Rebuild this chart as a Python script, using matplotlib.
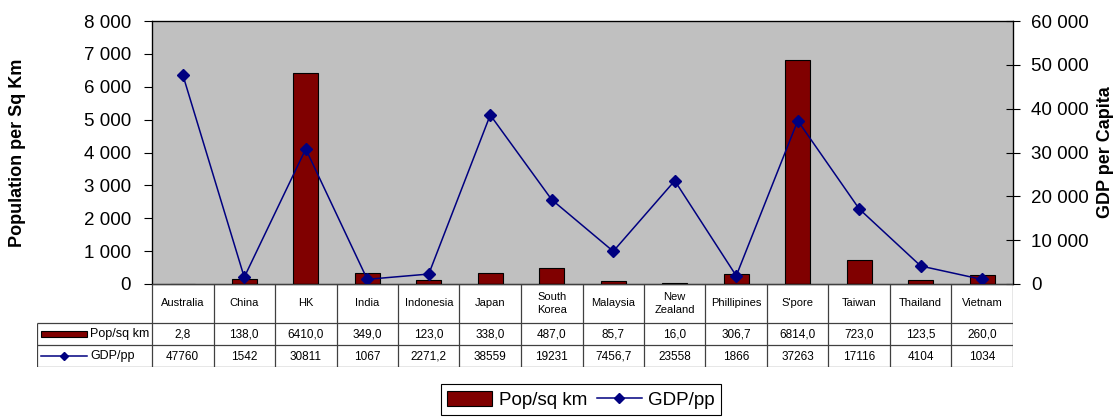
import matplotlib
matplotlib.use("Agg")
import matplotlib.pyplot as plt
from matplotlib.ticker import FuncFormatter, MultipleLocator
from matplotlib.lines import Line2D
from matplotlib.patches import Patch

plt.rcParams['font.family'] = ['Liberation Sans', 'DejaVu Sans']

countries = ["Australia", "China", "HK", "India", "Indonesia", "Japan", "South\nKorea",
             "Malaysia", "New\nZealand", "Phillipines", "S'pore", "Taiwan", "Thailand", "Vietnam"]
pop_sq_km = [2.8, 138.0, 6410.0, 349.0, 123.0, 338.0, 487.0, 85.7, 16.0, 306.7, 6814.0, 723.0, 123.5, 260.0]
gdp_pp = [47760, 1542, 30811, 1067, 2271.2, 38559, 19231, 7456.7, 23558, 1866, 37263, 17116, 4104, 1034]
series_names = ["Pop/sq km", "GDP/pp"]

BAR_COLOR = "#800000"
LINE_COLOR = "#000080"
PLOT_BG = "#c0c0c0"

W, H = 1120, 418
fig = plt.figure(figsize=(W / 100, H / 100), dpi=100)


def fbox(x0, y0, x1, y1):
    # pixel box (top-left origin) -> figure fraction rect
    return [x0 / W, 1 - y1 / H, (x1 - x0) / W, (y1 - y0) / H]


PX_L, PX_R, PX_T, PX_B = 152, 1013, 21, 284
ax = fig.add_axes(fbox(PX_L, PX_T, PX_R, PX_B))
ax.set_facecolor(PLOT_BG)
n = len(countries)
xs = list(range(n))
ax.bar(xs, pop_sq_km, width=0.4, color=BAR_COLOR, edgecolor="black", linewidth=0.8, zorder=2)
ax.set_xlim(-0.5, n - 0.5)
ax.set_ylim(0, 8000)
ax.yaxis.set_major_locator(MultipleLocator(1000))
thousands = FuncFormatter(lambda v, p: f"{int(v):,}".replace(",", " "))
ax.yaxis.set_major_formatter(thousands)
ax.set_xticks([])
ax.tick_params(axis="y", labelsize=13.5, length=6, width=0.8, direction="out", pad=9)
for s in ax.spines.values():
    s.set_linewidth(0.9)
ax.set_ylabel("Population per Sq Km", fontsize=13, fontweight="bold")
span = PX_R - PX_L
ax.yaxis.set_label_coords((26 - PX_L) / span, 0.5)

ax2 = ax.twinx()
ax2.plot(xs, gdp_pp, color=LINE_COLOR, linewidth=1.1, marker="D", markersize=6,
         markerfacecolor=LINE_COLOR, markeredgecolor=LINE_COLOR, zorder=3)
ax2.set_ylim(0, 60000)
ax2.yaxis.set_major_locator(MultipleLocator(10000))
ax2.yaxis.set_major_formatter(thousands)
ax2.tick_params(axis="y", labelsize=13.5, length=10, width=0.8, direction="inout", pad=8)
ax2.set_ylabel("GDP per Capita", fontsize=13, fontweight="bold")
ax2.yaxis.set_label_coords((1097 - PX_L) / span, 0.5)

# data table under the plot
TB_L, TB_T, TB_B = 37, PX_B, 367
row_edges = [284, 323, 345, 367]
lead = (PX_L - TB_L) / (span / n)
tax = fig.add_axes(fbox(TB_L, TB_T, PX_R, TB_B))
tax.set_xlim(-0.5 - lead, n - 0.5)
tax.set_ylim(TB_B, TB_T)
tax.axis("off")
grid_kw = dict(color="#404040", linewidth=0.9, solid_capstyle="butt")
left_edge = -0.5 - lead
# horizontal lines
tax.plot([-0.5, n - 0.5], [row_edges[0]] * 2, **grid_kw)
for y in row_edges[1:]:
    tax.plot([left_edge, n - 0.5], [y, y], **grid_kw)
# vertical lines
for k in range(n + 1):
    tax.plot([k - 0.5, k - 0.5], [row_edges[0], row_edges[-1]], **grid_kw)
tax.plot([left_edge, left_edge], [row_edges[1], row_edges[-1]], **grid_kw)


def fmt_pop(v):
    return f"{v:.1f}".replace(".", ",")


def fmt_gdp(v):
    return f"{int(v)}" if float(v).is_integer() else f"{v:.1f}".replace(".", ",")


yc = [(row_edges[i] + row_edges[i + 1]) / 2 for i in range(3)]
for i in range(n):
    tax.text(xs[i], yc[0], countries[i], ha="center", va="center", fontsize=8, linespacing=1.3)
    tax.text(xs[i], yc[1] + 0.5, fmt_pop(pop_sq_km[i]), ha="center", va="center", fontsize=8.5)
    tax.text(xs[i], yc[2] + 0.5, fmt_gdp(gdp_pp[i]), ha="center", va="center", fontsize=8.5)

# row keys
key_x0 = left_edge + 0.06
tax.add_patch(plt.Rectangle((key_x0, yc[1] - 3), 0.75, 6, facecolor=BAR_COLOR,
                            edgecolor="black", linewidth=0.8))
tax.text(key_x0 + 0.8, yc[1] + 0.5, series_names[0], ha="left", va="center", fontsize=9)
tax.plot([key_x0, key_x0 + 0.75], [yc[2], yc[2]], color=LINE_COLOR, linewidth=1.1)
tax.plot([key_x0 + 0.375], [yc[2]], color=LINE_COLOR, marker="D", markersize=4)
tax.text(key_x0 + 0.8, yc[2] + 0.5, series_names[1], ha="left", va="center", fontsize=9)

handles = [Patch(facecolor=BAR_COLOR, edgecolor="black", linewidth=0.8),
           Line2D([0], [0], color=LINE_COLOR, linewidth=1.1, marker="D", markersize=5)]
leg = fig.legend(handles, series_names, loc="upper center",
                 bbox_to_anchor=(581 / W, 1 - 384 / H), ncol=2, fontsize=13.5,
                 frameon=True, fancybox=False, edgecolor="black", framealpha=1,
                 handlelength=2.4, handleheight=0.9, handletextpad=0.35, columnspacing=0.5,
                 borderpad=0.35, borderaxespad=0)
leg.get_frame().set_linewidth(0.8)

fig.savefig("out.png", dpi=100)
